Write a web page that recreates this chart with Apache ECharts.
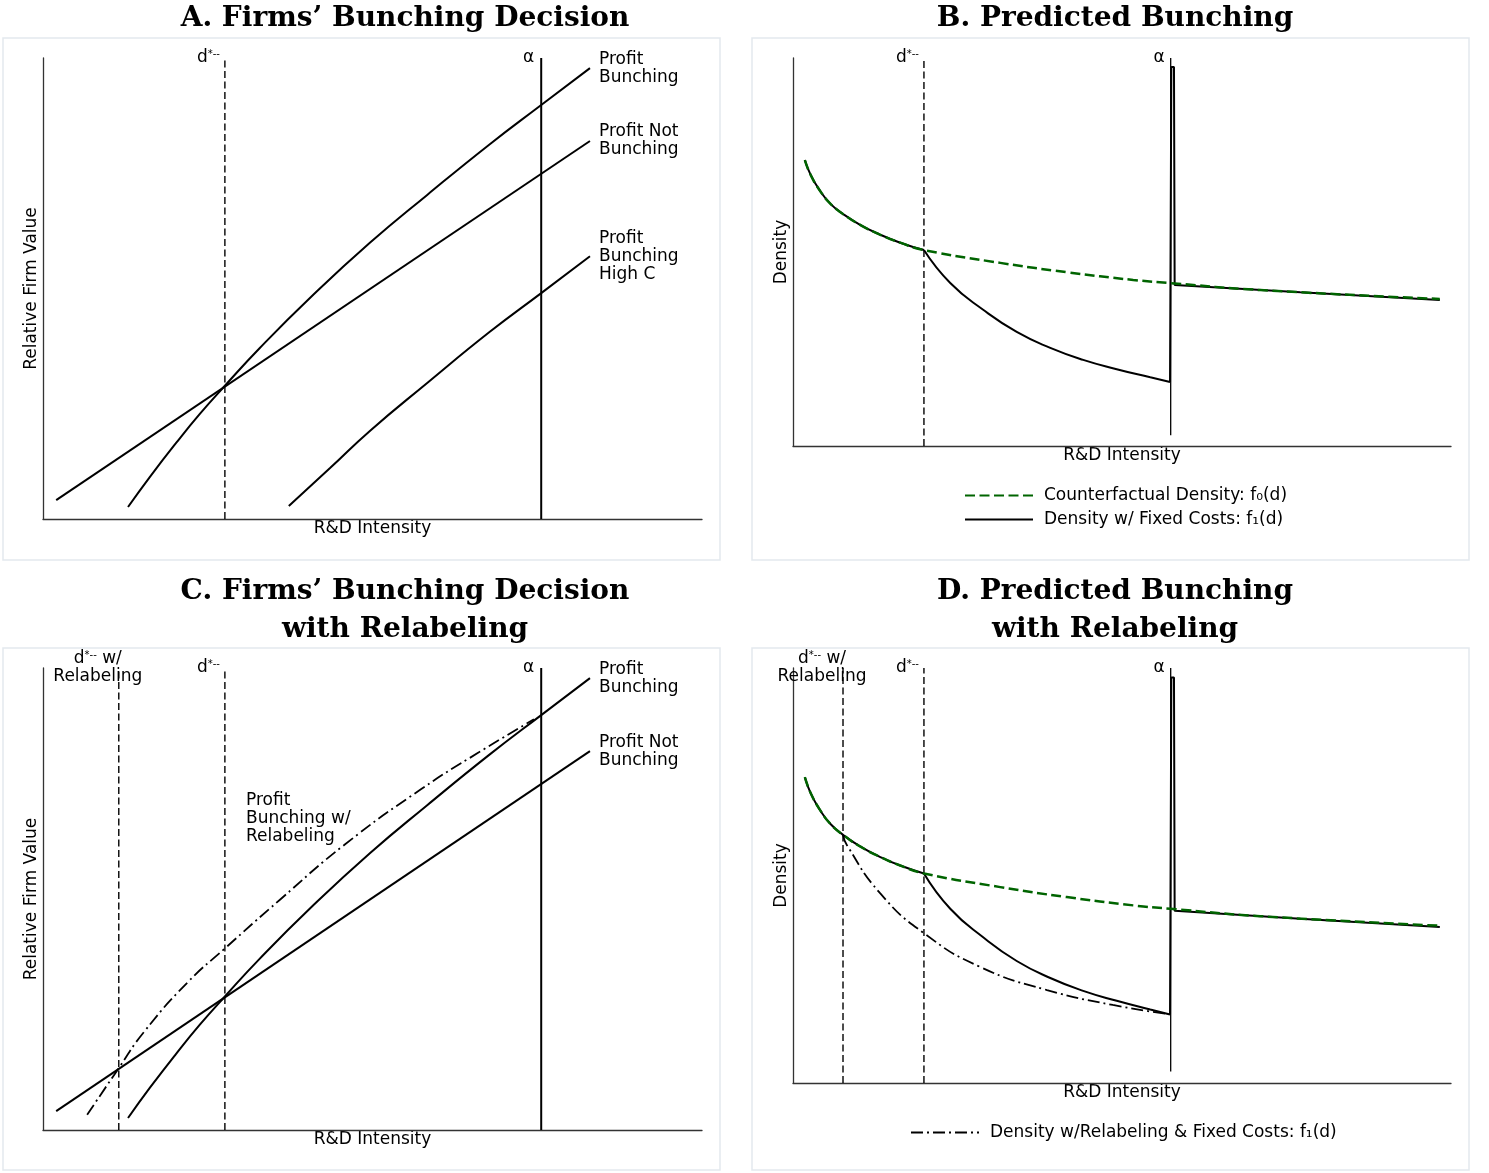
<!DOCTYPE html>
<html><head><meta charset="utf-8">
<script src="https://cdn.jsdelivr.net/npm/echarts@6/dist/echarts.min.js"></script>
<style>html,body{margin:0;padding:0;background:#fff}#chart{width:1489px;height:1173px}</style>
</head><body><div id="chart"></div>
<script>
// ---------- Panels A & C : relative firm value ----------
const dStarFV = 2.76;          // d*
const dStarRelabelFV = 1.15;   // d* w/ relabeling (panel C)
const alphaFV = 7.56;          // alpha
const notBunchX = [0.20, 8.30];
const notBunchY = [0.41, 8.20];
const bunchX = [1.29, 1.62, 2.02, 2.38, 2.76, 3.29, 4.07, 4.96, 5.83, 6.78, 7.56, 8.30];
const bunchY = [0.26, 0.91, 1.65, 2.28, 2.89, 3.71, 4.82, 5.99, 7.03, 8.13, 8.98, 9.78];
const highCX = [3.73, 4.36, 4.96, 5.83, 6.78, 7.56, 8.30];
const highCY = [0.28, 1.11, 1.91, 2.95, 4.06, 4.90, 5.70];
const relabelFVX = [0.67, 1.15, 1.52, 2.19, 2.76, 3.60, 4.58, 5.74, 6.62, 7.45];
const relabelFVY = [0.33, 1.34, 2.10, 3.19, 3.93, 4.99, 6.18, 7.38, 8.18, 8.89];
const relabelNote = [3.08, 6.73];

// ---------- Panels B & D : density ----------
const dStarD = 1.99;
const dStarRelabelD = 0.76;
const alphaD = 5.74;
const alphaLineBottom = 0.28;
const f0X = [0.18, 0.27, 0.41, 0.57, 0.76, 1.02, 1.32, 1.63, 1.99, 3.15, 4.16, 5.17, 5.73, 7.10, 9.83];
const f0Y = [7.37, 6.98, 6.58, 6.24, 5.98, 5.70, 5.45, 5.24, 5.05, 4.72, 4.48, 4.28, 4.20, 4.02, 3.79];
const f1DropX = [1.99, 2.39, 2.89, 3.40, 3.91, 4.41, 4.92, 5.43, 5.73];
const f1DropY = [5.05, 4.20, 3.51, 2.94, 2.53, 2.22, 1.98, 1.77, 1.65];
const f1SpikeX = [5.73, 5.75, 5.79, 5.80, 7.71, 9.83];
const f1SpikeY = [1.65, 9.77, 9.77, 4.15, 3.96, 3.76];
const relabelDX = [0.76, 0.82, 1.32, 1.99, 2.84, 3.86, 4.86, 5.71];
const relabelDY = [5.98, 5.73, 4.58, 3.61, 2.80, 2.24, 1.88, 1.66];

const F0NAME = 'Counterfactual Density: f\u2080(d)';
const F1NAME = 'Density w/ Fixed Costs: f\u2081(d)';
const RLNAME = 'Density w/Relabeling & Fixed Costs: f\u2081(d)';

const FONT = 'DejaVu Sans';
const txt = {fontFamily: FONT, fontSize: 17, color: '#000', lineHeight: 18};
const rich = {
  d: {fontFamily: FONT, fontSize: 17, color: '#000', lineHeight: 18},
  s: {fontFamily: FONT, fontSize: 10, color: '#000', verticalAlign: 'top', lineHeight: 18},
  t: {fontFamily: FONT, fontSize: 17, color: '#000', lineHeight: 18}
};
const DSTAR = '{d|d}{s|*--}';

const solid = {color: '#000', width: 2, type: 'solid'};
const vdash = {color: '#000', width: 1.4, type: [7, 3.5]};
const alphaStyle = {color: '#000', width: 2, type: 'solid'};
const green = {color: '#006400', width: 2.5, type: [10, 4.5]};
const dashdot = {color: '#000', width: 1.8, type: [12, 4, 2, 4]};

const pts = (xs, ys) => xs.map((x, i) => [x, ys[i]]);

function vline(g, x, y0, y1, ls, label) {
  return {type: 'line', xAxisIndex: g, yAxisIndex: g, symbol: 'circle', symbolSize: 0, showSymbol: true,
    itemStyle: {color: 'rgba(0,0,0,0)'}, lineStyle: ls, silent: true, animation: false,
    data: [[x, y0], {value: [x, y1], label: Object.assign({show: true, color: '#000', rich: rich}, txt, label)}]};
}
function curve(g, name, xs, ys, ls, smooth, endLabel) {
  const data = pts(xs, ys);
  if (endLabel) {
    const last = data.pop();
    data.push({value: last, label: Object.assign({show: true, position: 'right', distance: 9, formatter: endLabel}, txt)});
  }
  return {type: 'line', name: name, xAxisIndex: g, yAxisIndex: g, data: data,
    symbol: endLabel ? 'circle' : 'none', symbolSize: 0, showSymbol: !!endLabel,
    itemStyle: {color: ls.color}, lineStyle: ls, smooth: smooth ? 0.5 : false,
    silent: true, animation: false};
}

const f0PreIdx = f0X.filter(x => x <= dStarD).length;
const f1PreX = f0X.slice(0, f0PreIdx), f1PreY = f0Y.slice(0, f0PreIdx);

function xAx(g) {
  return {gridIndex: g, type: 'value', min: 0, max: 10,
    axisLine: {show: true, onZero: false, lineStyle: {color: '#333', width: 1.3}},
    axisTick: {show: false}, axisLabel: {show: false}, splitLine: {show: false},
    name: 'R&D Intensity', nameLocation: 'middle', nameGap: 1,
    nameTextStyle: {fontFamily: FONT, fontSize: 17, color: '#000', lineHeight: 18, verticalAlign: 'top'}};
}
function yAx(g, name) {
  return {gridIndex: g, type: 'value', min: 0, max: 10,
    axisLine: {show: true, onZero: false, lineStyle: {color: '#333', width: 1.3}},
    axisTick: {show: false}, axisLabel: {show: false}, splitLine: {show: false},
    name: name, nameLocation: 'middle', nameGap: 2,
    nameTextStyle: {fontFamily: FONT, fontSize: 17, color: '#000', lineHeight: 18}};
}

const titleStyle = {fontFamily: 'DejaVu Serif', fontWeight: 'bold', fontSize: 28, color: '#000', lineHeight: 38};

const series = [
  // ---- A ----
  vline(0, dStarFV, 0, 10, vdash, {position: 'left', distance: 5, formatter: DSTAR}),
  vline(0, alphaFV, 0, 10, alphaStyle, {position: 'left', distance: 7, formatter: '\u03b1'}),
  curve(0, 'nbA', notBunchX, notBunchY, solid, false, 'Profit Not\nBunching'),
  curve(0, 'bA', bunchX, bunchY, solid, true, 'Profit\nBunching'),
  curve(0, 'hcA', highCX, highCY, solid, true, 'Profit\nBunching\nHigh C'),
  // ---- C ----
  vline(2, dStarRelabelFV, 0, 10, vdash, {position: 'inside', offset: [-21, 0], align: 'center', verticalAlign: 'middle', formatter: DSTAR + '{t| w/}\n{t|Relabeling}'}),
  vline(2, dStarFV, 0, 10, vdash, {position: 'left', distance: 5, formatter: DSTAR}),
  vline(2, alphaFV, 0, 10, alphaStyle, {position: 'left', distance: 7, formatter: '\u03b1'}),
  curve(2, 'nbC', notBunchX, notBunchY, solid, false, 'Profit Not\nBunching'),
  curve(2, 'bC', bunchX, bunchY, solid, true, 'Profit\nBunching'),
  Object.assign(curve(2, 'rlC', relabelFVX, relabelFVY, dashdot, true, null), {
    markPoint: {symbol: 'circle', symbolSize: 0, silent: true, animation: false,
      itemStyle: {color: 'rgba(0,0,0,0)'},
      data: [{coord: relabelNote, label: Object.assign({show: true, position: 'right', distance: 0, formatter: 'Profit\nBunching w/\nRelabeling'}, txt)}]}
  }),
  // ---- B ----
  vline(1, dStarD, 0, 10, vdash, {position: 'left', distance: 5, formatter: DSTAR}),
  vline(1, alphaD, alphaLineBottom, 10, {color: '#000', width: 1.3}, {position: 'left', distance: 6, formatter: '\u03b1'}),
  curve(1, F1NAME, f1PreX, f1PreY, solid, true, null),
  curve(1, F1NAME, f1DropX, f1DropY, solid, true, null),
  curve(1, F1NAME, f1SpikeX, f1SpikeY, solid, false, null),
  curve(1, F0NAME, f0X, f0Y, green, true, null),
  // ---- D ----
  vline(3, dStarRelabelD, 0, 10, vdash, {position: 'inside', offset: [-21, 0], align: 'center', verticalAlign: 'middle', formatter: DSTAR + '{t| w/}\n{t|Relabeling}'}),
  vline(3, dStarD, 0, 10, vdash, {position: 'left', distance: 5, formatter: DSTAR}),
  vline(3, alphaD, alphaLineBottom, 10, {color: '#000', width: 1.3}, {position: 'left', distance: 6, formatter: '\u03b1'}),
  curve(3, 'f1D', f1PreX, f1PreY, solid, true, null),
  curve(3, 'f1D', f1DropX, f1DropY, solid, true, null),
  curve(3, 'f1D', f1SpikeX, f1SpikeY, solid, false, null),
  curve(3, 'f0D', f0X, f0Y, green, true, null),
  curve(3, RLNAME, relabelDX, relabelDY, dashdot, true, null)
];

const legendBase = {orient: 'vertical', itemWidth: 68, itemHeight: 14, itemGap: 7, selectedMode: false, padding: 0,
  itemStyle: {opacity: 0},
  textStyle: {fontFamily: FONT, fontSize: 17, color: '#000', padding: [0, 0, 0, 6]}};

const border = (x, y) => ({type: 'rect', shape: {x: x, y: y, width: 717, height: 522},
  style: {fill: 'none', stroke: '#e3e9ee', lineWidth: 1.5}, silent: true});

const option = {
  backgroundColor: '#fff',
  animation: false,
  title: [
    {text: 'A. Firms\u2019 Bunching Decision', left: 400, top: -5, textAlign: 'center', textStyle: titleStyle},
    {text: 'B. Predicted Bunching', left: 1110, top: -5, textAlign: 'center', textStyle: titleStyle},
    {text: 'C. Firms\u2019 Bunching Decision\nwith Relabeling', left: 400, top: 568, textAlign: 'center', textStyle: titleStyle},
    {text: 'D. Predicted Bunching\nwith Relabeling', left: 1110, top: 568, textAlign: 'center', textStyle: titleStyle}
  ],
  graphic: [border(3, 38), border(752, 38), border(3, 648), border(752, 648)],
  legend: [
    Object.assign({data: [F0NAME, F1NAME], left: 964, top: 487}, legendBase),
    Object.assign({data: [RLNAME], left: 910, top: 1124}, legendBase)
  ],
  grid: [
    {left: 43, top: 58, width: 659, height: 461},
    {left: 793, top: 58, width: 658, height: 388},
    {left: 43, top: 668, width: 659, height: 462},
    {left: 793, top: 668, width: 658, height: 415}
  ],
  xAxis: [xAx(0), xAx(1), xAx(2), xAx(3)],
  yAxis: [yAx(0, 'Relative Firm Value'), yAx(1, 'Density'), yAx(2, 'Relative Firm Value'), yAx(3, 'Density')],
  series: series
};

const chart = echarts.init(document.getElementById('chart'), null, {renderer: 'canvas'});
chart.setOption(option);
</script>
</body></html>
